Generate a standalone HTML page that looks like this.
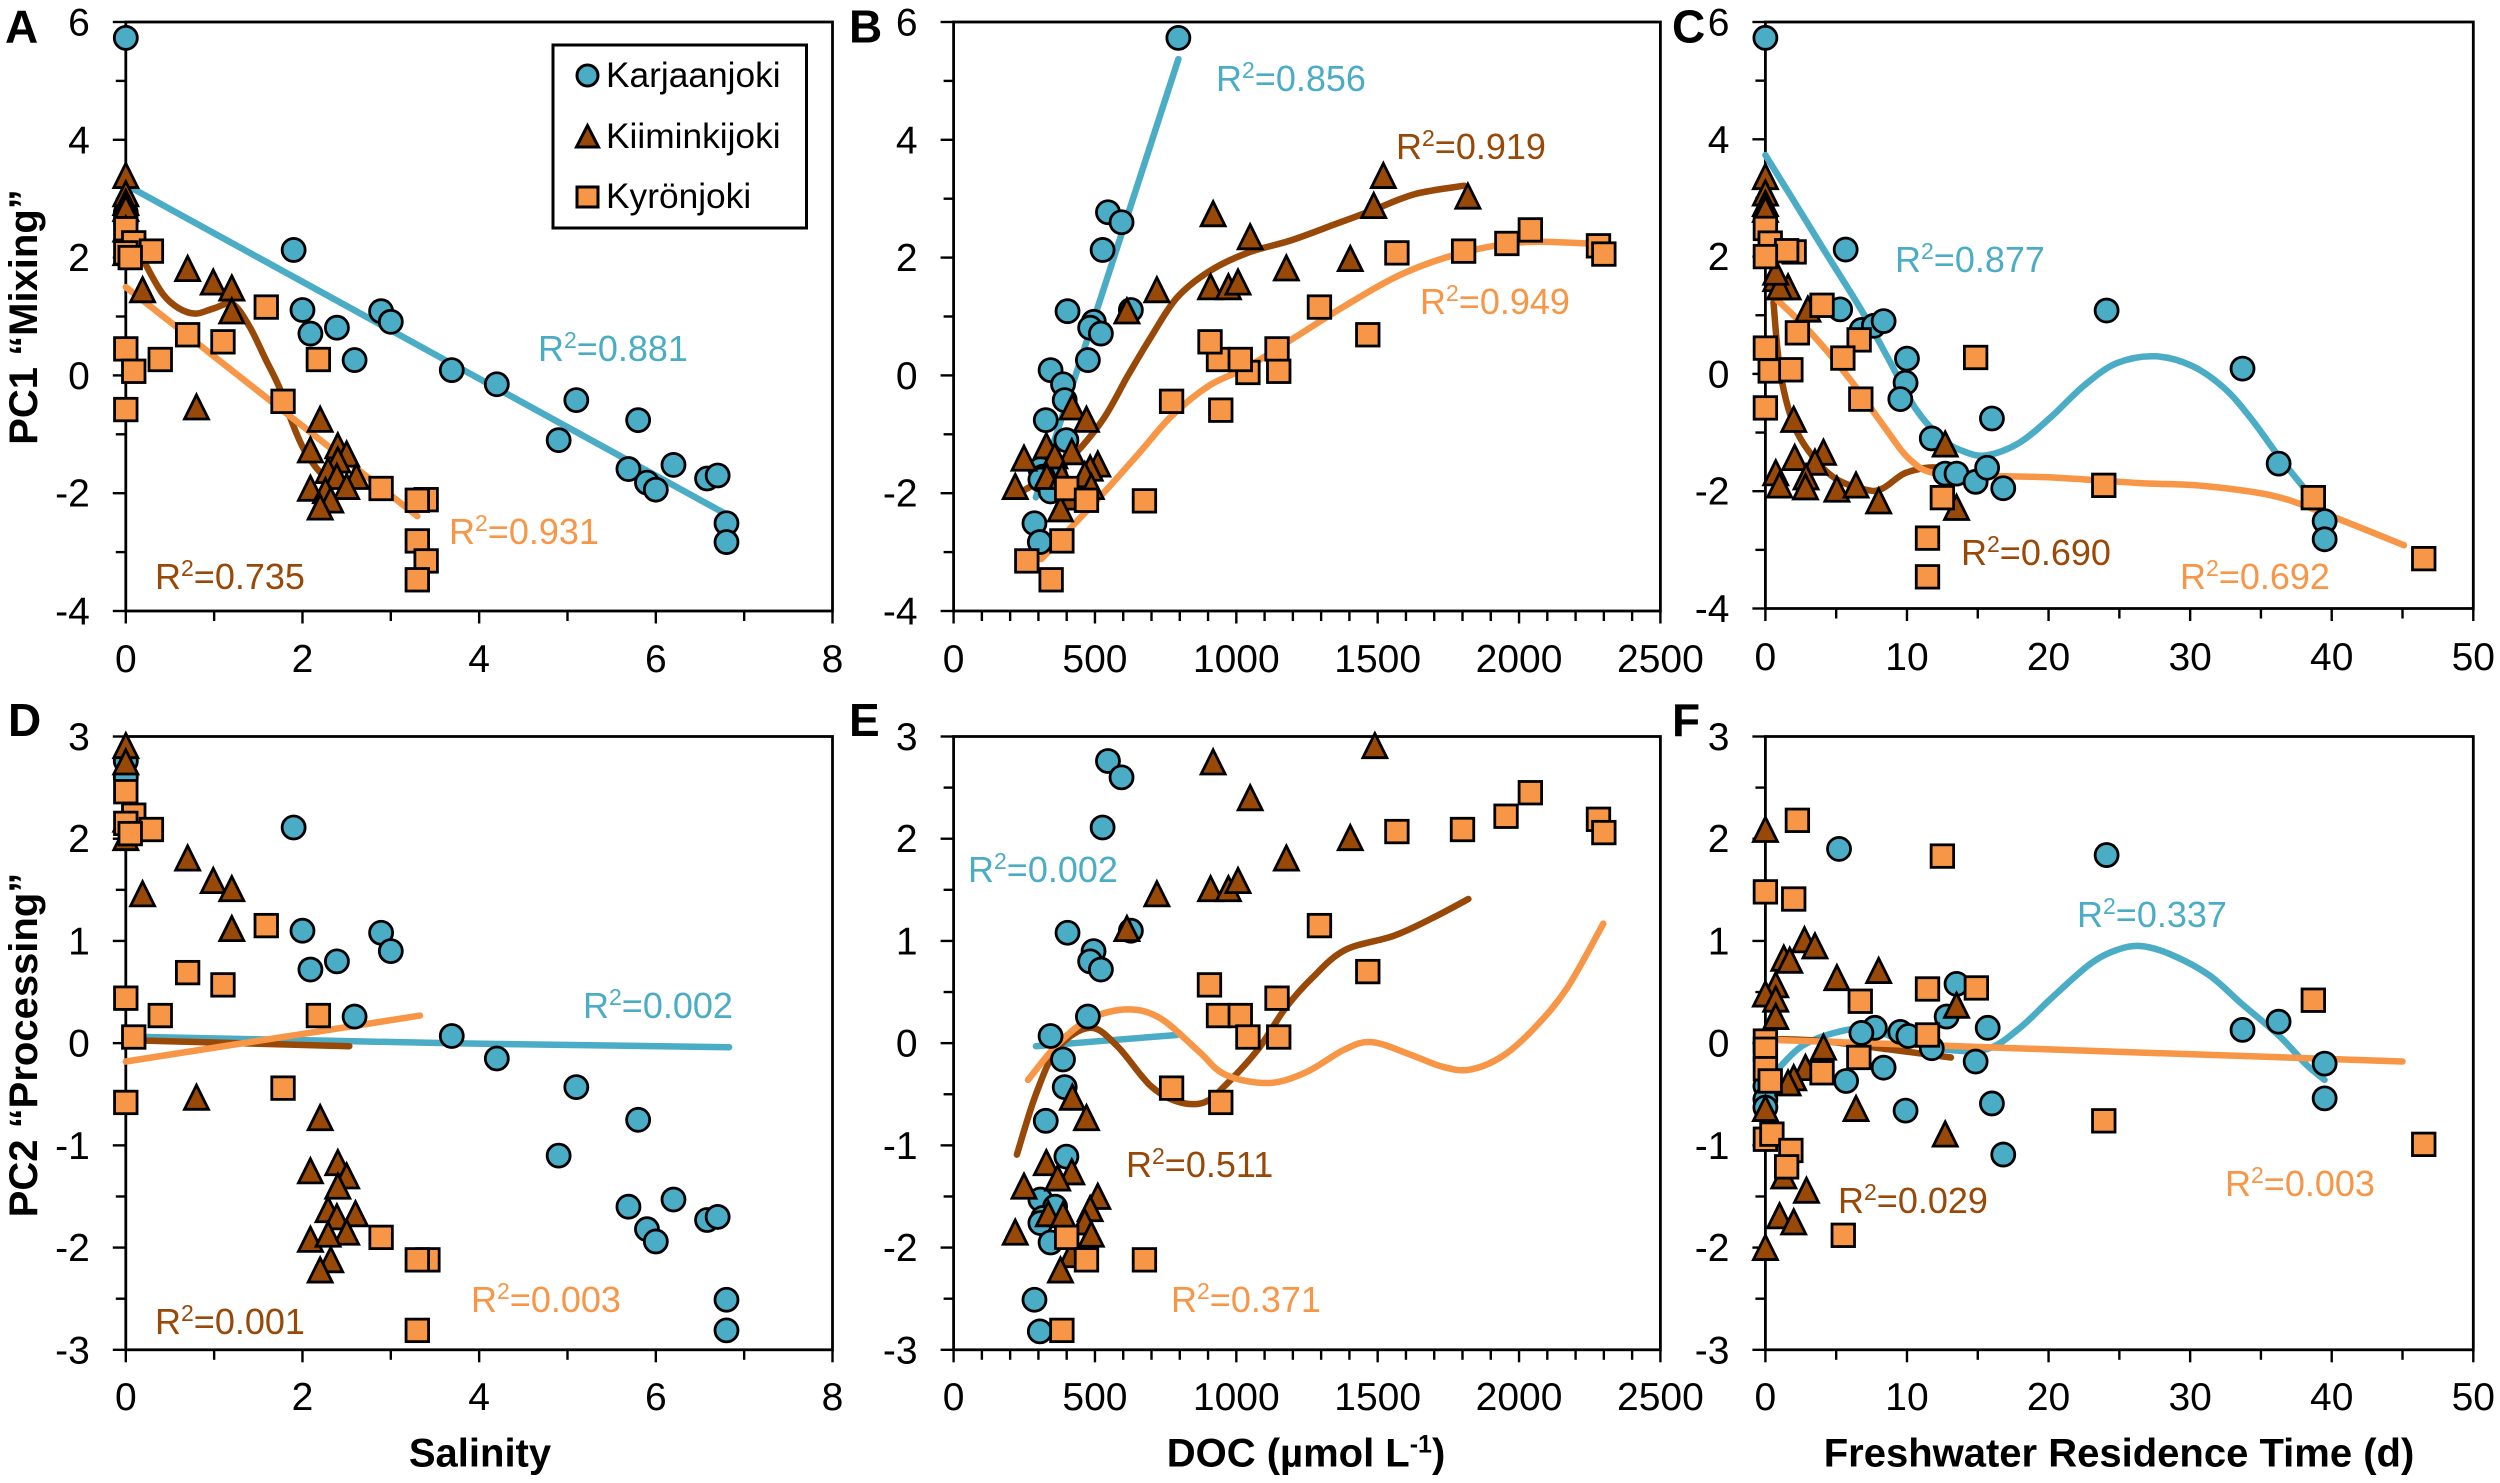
<!DOCTYPE html>
<html lang="en">
<head>
<meta charset="utf-8">
<title>PC1 and PC2 versus salinity, DOC and freshwater residence time</title>
<style>
html,body{margin:0;padding:0;background:#fff;}
svg{display:block;font-family:"Liberation Sans",Arial,sans-serif;}
.letter{font-size:46px;font-weight:bold;fill:#000;}
.title{font-size:40px;font-weight:bold;fill:#000;}
.legend-text{font-size:35.3px;fill:#000;}
.r2{font-size:36px;}
.k{fill:#4BACC6;}.b{fill:#984807;}.o{fill:#F79646;}
</style>
</head>
<body>
<svg id="figure" xmlns="http://www.w3.org/2000/svg" width="2500" height="1483" viewBox="0 0 2500 1483">
<rect width="2500" height="1483" fill="#fff"/>
<g id="plots"></g>

<g>
<text class="letter" x="5" y="42.5">A</text>
<text class="letter" x="849" y="42.5">B</text>
<text class="letter" x="1672" y="42.5">C</text>
<text class="letter" x="8" y="736">D</text>
<text class="letter" x="849" y="736">E</text>
<text class="letter" x="1672" y="736">F</text>
</g>

<text class="title" text-anchor="middle" transform="translate(37,317) rotate(-90)">PC1 “Mixing”</text>
<text class="title" text-anchor="middle" transform="translate(37,1045) rotate(-90)">PC2 “Processing”</text>
<text class="title" text-anchor="middle" x="480" y="1466.5">Salinity</text>
<text class="title" text-anchor="middle" x="1306" y="1466.5">DOC (µmol L<tspan dy="-14" font-size="25">-1</tspan><tspan dy="14">)</tspan></text>
<text class="title" text-anchor="middle" x="2119" y="1466.5">Freshwater Residence Time (d)</text>

<g>
<text class="r2 k" x="538" y="361">R<tspan dy="-13" font-size="23">2</tspan><tspan dy="13">=0.881</tspan></text>
<text class="r2 o" x="449" y="544">R<tspan dy="-13" font-size="23">2</tspan><tspan dy="13">=0.931</tspan></text>
<text class="r2 b" x="155" y="589">R<tspan dy="-13" font-size="23">2</tspan><tspan dy="13">=0.735</tspan></text>
<text class="r2 k" x="1216" y="91">R<tspan dy="-13" font-size="23">2</tspan><tspan dy="13">=0.856</tspan></text>
<text class="r2 b" x="1396" y="159">R<tspan dy="-13" font-size="23">2</tspan><tspan dy="13">=0.919</tspan></text>
<text class="r2 o" x="1420" y="314">R<tspan dy="-13" font-size="23">2</tspan><tspan dy="13">=0.949</tspan></text>
<text class="r2 k" x="1895" y="272">R<tspan dy="-13" font-size="23">2</tspan><tspan dy="13">=0.877</tspan></text>
<text class="r2 b" x="1961" y="565">R<tspan dy="-13" font-size="23">2</tspan><tspan dy="13">=0.690</tspan></text>
<text class="r2 o" x="2180" y="589">R<tspan dy="-13" font-size="23">2</tspan><tspan dy="13">=0.692</tspan></text>
<text class="r2 k" x="583" y="1018">R<tspan dy="-13" font-size="23">2</tspan><tspan dy="13">=0.002</tspan></text>
<text class="r2 o" x="471" y="1312">R<tspan dy="-13" font-size="23">2</tspan><tspan dy="13">=0.003</tspan></text>
<text class="r2 b" x="155" y="1334">R<tspan dy="-13" font-size="23">2</tspan><tspan dy="13">=0.001</tspan></text>
<text class="r2 k" x="968" y="882">R<tspan dy="-13" font-size="23">2</tspan><tspan dy="13">=0.002</tspan></text>
<text class="r2 b" x="1126" y="1177">R<tspan dy="-13" font-size="23">2</tspan><tspan dy="13">=0.511</tspan></text>
<text class="r2 o" x="1171" y="1312">R<tspan dy="-13" font-size="23">2</tspan><tspan dy="13">=0.371</tspan></text>
<text class="r2 k" x="2077" y="927">R<tspan dy="-13" font-size="23">2</tspan><tspan dy="13">=0.337</tspan></text>
<text class="r2 b" x="1838" y="1213">R<tspan dy="-13" font-size="23">2</tspan><tspan dy="13">=0.029</tspan></text>
<text class="r2 o" x="2225" y="1196">R<tspan dy="-13" font-size="23">2</tspan><tspan dy="13">=0.003</tspan></text>
</g>

<g>
<rect x="553" y="45" width="253.5" height="183" fill="#fff" stroke="#000" stroke-width="3"/>
<g>
<circle cx="587.5" cy="75.5" r="10.5" fill="#4BACC6" stroke="#000" stroke-width="3"/>
<text class="legend-text" x="606" y="87">Karjaanjoki</text>
</g>
<g>
<polygon points="587.5,125.5 598.5,147 576.5,147" fill="#984807" stroke="#000" stroke-width="3"/>
<text class="legend-text" x="606" y="148">Kiiminkijoki</text>
</g>
<g>
<rect x="577" y="187" width="21" height="20" fill="#F79646" stroke="#000" stroke-width="3"/>
<text class="legend-text" x="606" y="208">Kyrönjoki</text>
</g>
</g>
</svg>

<script>
// ---------- tick labels ----------
const salinityTicks = [0,2,4,6,8];
const salinityMinor = [1,3,5,7];
const docTicks = [0,500,1000,1500,2000,2500];
const docMinor = [100,200,300,400,600,700,800,900,1100,1200,1300,1400,1600,1700,1800,1900,2100,2200,2300,2400];
const timeTicks = [0,10,20,30,40,50];
const timeMinor = [5,15,25,35,45];
const pc1Ticks = [-4,-2,0,2,4,6];
const pc1Minor = [-3,-1,1,3,5];
const pc2Ticks = [-3,-2,-1,0,1,2,3];
const pc2Minor = [-2.5,-1.5,-0.5,0.5,1.5,2.5];

// ---------- Panel A: PC1 vs salinity ----------
const A_karj_x = [0,0,0,1.9,2.0,2.09,2.39,2.59,2.89,3.0,3.69,4.2,5.1,4.9,5.8,5.69,5.9,6.0,6.2,6.58,6.7,6.8,6.8];
const A_karj_y = [5.73,2.76,2.6,2.13,1.11,0.71,0.81,0.26,1.09,0.91,0.09,-0.15,-0.42,-1.1,-0.76,-1.59,-1.82,-1.94,-1.52,-1.75,-1.7,-2.51,-2.83];
const A_kiim_x = [0,0,0,0,0,0,0.19,0.7,0.99,1.2,1.2,0.8,2.2,2.09,2.4,2.5,2.4,2.29,2.39,2.61,2.5,2.09,2.26,2.32,2.2];
const A_kiim_y = [3.41,3.1,2.95,2.85,2.5,2.1,1.47,1.83,1.6,1.5,1.11,-0.52,-0.73,-1.25,-1.18,-1.32,-1.42,-1.6,-1.7,-1.7,-1.87,-1.9,-1.94,-2.1,-2.22];
const A_kyro_x = [0,0,0.09,0.39,0.7,1.1,1.59,1.78,2.18,2.89,3.4,3.3,3.3,3.4,3.3,0,0.09,0.29,0,0.05];
const A_kyro_y = [0.45,-0.58,0.07,0.27,0.69,0.57,1.16,-0.44,0.27,-1.92,-2.11,-2.12,-2.81,-3.15,-3.47,2.49,2.25,2.11,2.08,2.0];
const A_karj_tx = [0.08,6.8];
const A_karj_ty = [3.17,-2.36];
const A_kiim_tx = [0,0.23,0.42,0.6,0.79,1.0,1.21,1.4,1.58,1.74,1.89,2.04,2.26,2.5];
const A_kiim_ty = [2.6,1.87,1.38,1.14,1.05,1.14,1.21,0.83,0.28,-0.21,-0.83,-1.32,-1.73,-1.87];
const A_kyro_tx = [0,3.3];
const A_kyro_ty = [1.5,-2.39];

// ---------- Panel B: PC1 vs DOC ----------
const B_karj_x = [795,546,594,527,627,403,496,483,521,475,343,387,393,326,399,307,359,316,307,343,286,305];
const B_karj_y = [5.73,2.77,2.6,2.13,1.11,1.09,0.91,0.81,0.71,0.26,0.09,-0.15,-0.42,-0.76,-1.1,-1.59,-1.7,-1.72,-1.77,-1.97,-2.51,-2.83];
const B_kiim_x = [1520,1819,1486,918,1049,1177,1403,719,909,972,1006,613,420,470,328,249,418,358,510,483,464,330,383,218,487,416,378];
const B_kiim_y = [3.41,3.06,2.9,2.76,2.37,1.84,2.0,1.47,1.52,1.52,1.6,1.11,-0.52,-0.73,-1.18,-1.39,-1.28,-1.35,-1.49,-1.56,-1.67,-1.7,-1.7,-1.87,-1.87,-2.05,-2.25];
const B_kyro_x = [259,345,383,400,470,675,771,945,937,907,1041,1014,1150,1144,1294,1465,1568,1804,1957,2040,2281,2300];
const B_kyro_y = [-3.15,-3.47,-2.81,-1.92,-2.12,-2.13,-0.44,-0.59,0.27,0.57,0.05,0.27,0.07,0.45,1.16,0.69,2.08,2.11,2.24,2.47,2.2,2.06];
const B_karj_tx = [291,502,795];
const B_karj_ty = [-2.07,1.04,5.37];
const B_kiim_tx = [253,387,521,617,694,790,905,1039,1192,1346,1480,1633,1806];
const B_kiim_ty = [-1.94,-1.53,-0.8,0,0.62,1.32,1.77,2.08,2.29,2.56,2.8,3.08,3.22];
const B_kyro_tx = [310,426,541,656,771,905,1039,1212,1384,1576,1767,1940,2074,2285];
const B_kyro_ty = [-3.12,-2.53,-1.94,-1.32,-0.69,-0.17,0.14,0.66,1.18,1.7,2.04,2.22,2.27,2.23];

// ---------- Panel C: PC1 vs residence time ----------
const C_karj_x = [0,5.67,5.28,6.8,7.66,8.35,10,9.9,9.53,11.75,16,12.7,13.5,14.85,15.66,16.8,24.1,33.7,36.25,39.5,39.5];
const C_karj_y = [5.73,2.12,1.1,0.75,0.82,0.9,0.26,-0.15,-0.43,-1.1,-0.76,-1.7,-1.7,-1.84,-1.6,-1.95,1.08,0.09,-1.53,-2.51,-2.82];
const C_kiim_x = [0,0,0,0,0.73,1.6,1,3,2,12.7,4.1,2.07,3.5,0.73,2.87,1,2.83,5.05,6.4,8,13.5,0.73];
const C_kiim_y = [3.38,3.1,2.92,2.82,1.64,1.5,1.5,1.12,-0.76,-1.18,-1.32,-1.41,-1.49,-1.67,-1.74,-1.88,-1.91,-1.95,-1.88,-2.15,-2.26,1.75];
const C_kyro_x = [0,0.34,2.03,1.5,0,4,2.26,0,6.62,5.47,0.34,1.8,6.74,0,14.85,12.5,23.9,38.7,11.45,11.45,46.5];
const C_kyro_y = [2.48,2.23,2.08,2.1,2,1.17,0.7,0.44,0.58,0.27,0.05,0.07,-0.43,-0.58,0.28,-2.11,-1.9,-2.11,-2.8,-3.46,-3.15];
const C_karj_tx = [0,1.8,4.1,6.8,8.7,10.6,12.5,14,15.6,17.9,20.2,22.5,24.8,27.5,30.1,32.4,34.3,36.3,38.4];
const C_karj_ty = [3.73,3.03,2.13,1.08,0.25,-0.59,-1.11,-1.32,-1.39,-1.18,-0.73,-0.2,0.18,0.3,0.14,-0.24,-0.76,-1.42,-2.05];
const C_kiim_tx = [0.57,1,1.8,2.95,4.86,7.2,8.3,9.8,11.4,12.5];
const C_kiim_ty = [1.22,0.11,-0.73,-1.28,-1.77,-1.98,-1.95,-1.7,-1.6,-1.6];
const C_kyro_tx = [0.84,3.33,6,8.3,10.2,12.1,16.3,20.6,26.3,30.9,35.9,39.7,45.1];
const C_kyro_ty = [1.26,0.67,-0.1,-0.87,-1.46,-1.7,-1.74,-1.77,-1.86,-1.91,-2.08,-2.4,-2.92];

// ---------- Panel D: PC2 vs salinity ----------
const D_karj_x = [0,0,1.9,2.0,2.09,2.39,2.59,2.89,3.0,3.69,4.2,5.1,4.9,5.8,5.69,5.9,6.0,6.2,6.58,6.7,6.8,6.8];
const D_karj_y = [2.76,2.6,2.11,1.1,0.72,0.8,0.26,1.08,0.9,0.07,-0.15,-0.43,-1.1,-0.75,-1.6,-1.82,-1.94,-1.53,-1.73,-1.7,-2.51,-2.81];
const D_kiim_x = [0,0,0,0,0.19,0.7,0.99,1.2,1.2,0.8,2.2,2.09,2.4,2.5,2.4,2.29,2.39,2.6,2.5,2.09,2.29,2.32,2.2];
const D_kiim_y = [2.92,2.76,2.02,2.2,1.47,1.82,1.6,1.52,1.13,-0.52,-0.72,-1.24,-1.16,-1.29,-1.39,-1.62,-1.69,-1.66,-1.84,-1.91,-1.86,-2.11,-2.21];
const D_kyro_x = [0,0,0.09,0.39,0.7,1.1,1.59,1.78,2.18,2.89,3.42,3.3,3.3,0,0.09,0.29,0,0.05];
const D_kyro_y = [0.44,-0.58,0.06,0.27,0.69,0.57,1.15,-0.44,0.27,-1.9,-2.12,-2.12,-2.81,2.46,2.23,2.09,2.15,2.05];
const D_karj_tx = [0.23,3.69,6.83];
const D_karj_ty = [0.06,0,-0.04];
const D_kiim_tx = [0,2.53];
const D_kiim_ty = [0.03,-0.03];
const D_kyro_tx = [0,3.33];
const D_kyro_ty = [-0.18,0.27];

// ---------- Panel E: PC2 vs DOC ----------
const E_karj_x = [546,594,527,627,403,495,483,521,475,343,387,393,326,399,307,359,316,307,343,286,305];
const E_karj_y = [2.76,2.6,2.11,1.1,1.08,0.9,0.8,0.72,0.26,0.07,-0.16,-0.43,-0.76,-1.11,-1.53,-1.6,-1.71,-1.76,-1.95,-2.51,-2.82];
const E_kiim_x = [1490,918,1049,1403,1177,719,909,972,1006,613,420,470,328,249,418,368,510,483,464,335,387,218,487,416,378];
const E_kiim_y = [2.92,2.76,2.41,2.02,1.82,1.47,1.52,1.52,1.6,1.13,-0.52,-0.72,-1.16,-1.39,-1.25,-1.31,-1.49,-1.61,-1.74,-1.66,-1.67,-1.84,-1.86,-2.06,-2.21];
const E_kyro_x = [383,400,470,675,771,945,905,937,1014,1041,1144,1150,1294,1465,1568,1800,1954,2040,2281,2300];
const E_kyro_y = [-2.81,-1.9,-2.12,-2.12,-0.44,-0.58,0.57,0.27,0.27,0.06,0.44,0.06,1.15,0.7,2.07,2.09,2.22,2.45,2.19,2.06];
const E_karj_tx = [291,790];
const E_karj_ty = [-0.03,0.08];
const E_kiim_tx = [224,291,368,483,579,694,790,886,962,1077,1173,1269,1384,1557,1691,1821];
const E_kiim_ty = [-1.09,-0.5,-0.05,0.15,-0.03,-0.41,-0.57,-0.58,-0.41,-0.06,0.34,0.64,0.91,1.05,1.22,1.41];
const E_kyro_tx = [263,368,483,617,733,867,962,1116,1250,1384,1480,1614,1729,1825,1940,2055,2170,2298];
const E_kyro_ty = [-0.36,-0.01,0.24,0.33,0.24,-0.08,-0.31,-0.39,-0.28,-0.06,0.01,-0.11,-0.23,-0.26,-0.13,0.15,0.54,1.17];

// ---------- Panel F: PC2 vs residence time ----------
const F_karj_x = [0,0,0,5.2,24.1,13.5,12.8,15.7,7.73,6.78,9.53,10.1,11.75,14.85,8.35,5.7,9.9,16,16.8,33.7,36.25,39.5,39.5];
const F_karj_y = [-0.42,-0.55,-0.63,1.9,1.84,0.58,0.26,0.15,0.15,0.1,0.11,0.07,-0.05,-0.18,-0.24,-0.37,-0.66,-0.59,-1.09,0.13,0.21,-0.2,-0.54];
const F_kiim_x = [0,2.76,3.5,1.3,1.72,8,5.05,0.73,0,0.73,0.73,13.5,4.1,2.83,2,1.6,0,6.4,12.7,1.3,2.9,1,2,0];
const F_kiim_y = [2.1,1.02,0.96,0.84,0.82,0.72,0.65,0.58,0.49,0.44,0.27,0.38,-0.03,-0.23,-0.33,-0.38,-0.63,-0.63,-0.88,-1.29,-1.43,-1.68,-1.74,-1.99];
const F_kyro_x = [2.26,12.5,0,2,11.45,14.9,6.7,38.7,11.45,0,0,0,6.6,4,0.34,23.9,0,0.46,1.8,1.5,5.5,46.5];
const F_kyro_y = [2.18,1.83,1.48,1.41,0.53,0.54,0.41,0.42,0.08,0.02,-0.06,-0.25,-0.14,-0.29,-0.37,-0.76,-0.94,-0.89,-1.05,-1.21,-1.88,-0.99];
const F_karj_tx = [0.84,2.57,4.86,7.16,9.84,12.5,15.6,17.9,20.2,22.9,24.8,26.5,28.6,31.3,33.6,36.3,38.2,39.5];
const F_karj_ty = [-0.26,-0.03,0.1,0.14,0.02,-0.06,-0.06,0.14,0.44,0.77,0.91,0.95,0.87,0.67,0.39,0.07,-0.21,-0.36];
const F_kiim_tx = [0.65,4.1,8.7,13.1];
const F_kiim_ty = [0.04,0.02,-0.06,-0.14];
const F_kyro_tx = [1,45];
const F_kyro_ty = [0.03,-0.18];

const NS = 'http://www.w3.org/2000/svg';
const root = document.getElementById('plots');
const COLORS = {karjaanjoki:'#4BACC6', kiiminkijoki:'#984807', kyronjoki:'#F79646'};

function svgEl(parent, tag, attrs){
  const el = document.createElementNS(NS, tag);
  for (const k in attrs) el.setAttribute(k, attrs[k]);
  parent.appendChild(el);
  return el;
}
function linearScale(d0, d1, r0, r1){
  return v => r0 + (v - d0) * (r1 - r0) / (d1 - d0);
}
function smoothPath(pts){
  let d = 'M' + pts[0][0].toFixed(1) + ' ' + pts[0][1].toFixed(1);
  for (let i = 0; i < pts.length - 1; i++){
    const p0 = pts[Math.max(i-1,0)], p1 = pts[i], p2 = pts[i+1], p3 = pts[Math.min(i+2,pts.length-1)];
    const c1x = p1[0] + (p2[0]-p0[0])/6, c1y = p1[1] + (p2[1]-p0[1])/6;
    const c2x = p2[0] - (p3[0]-p1[0])/6, c2y = p2[1] - (p3[1]-p1[1])/6;
    d += 'C' + [c1x,c1y,c2x,c2y,p2[0],p2[1]].map(n => n.toFixed(1)).join(' ');
  }
  return d;
}
function drawMarker(g, kind, cx, cy){
  let el;
  if (kind === 'karjaanjoki'){
    el = svgEl(g, 'circle', {cx:cx, cy:cy, r:11.5, fill:COLORS[kind], stroke:'#000', 'stroke-width':2.8});
    
    
  } else if (kind === 'kiiminkijoki'){
    const pts = [[cx,cy-11.2],[cx+12,cy+13],[cx-12,cy+13]].map(p => p.join(',')).join(' ');
    el = svgEl(g, 'polygon', {points:pts, fill:COLORS[kind], stroke:'#000', 'stroke-width':2.8});
    
    
  } else {
    el = svgEl(g, 'rect', {x:cx-11.25, y:cy-11.25, width:22.5, height:22.5, fill:COLORS[kind], stroke:'#000', 'stroke-width':2.8});
    
    
  }
}
function drawPanel(p){
  const g = svgEl(root, 'g', {});
  
  
  const sx = linearScale(p.xDomain[0], p.xDomain[1], p.left, p.right);
  const sy = linearScale(p.yDomain[0], p.yDomain[1], p.bottom, p.top);

  // frame
  const frame = svgEl(g, 'rect', {x:p.left, y:p.top, width:p.right-p.left, height:p.bottom-p.top, fill:'none', stroke:'#000', 'stroke-width':2.8});
  
  

  // ticks
  const ticks = svgEl(g, 'g', {stroke:'#000', 'stroke-width':2.4});
  
  
  p.yTicks.forEach(v => svgEl(ticks, 'line', {x1:p.left-13, x2:p.left, y1:sy(v), y2:sy(v)}));
  p.yMinor.forEach(v => svgEl(ticks, 'line', {x1:p.left-10, x2:p.left, y1:sy(v), y2:sy(v)}));
  p.xTicks.forEach(v => svgEl(ticks, 'line', {x1:sx(v), x2:sx(v), y1:p.bottom, y2:p.bottom+12.5}));
  p.xMinor.forEach(v => svgEl(ticks, 'line', {x1:sx(v), x2:sx(v), y1:p.bottom, y2:p.bottom+10}));

  // tick labels
  p.yTicks.forEach(v => {
    const t = svgEl(g, 'text', {x:p.left-36, y:sy(v)+13.5, 'text-anchor':'end', 'font-size':39, fill:'#000'});
    t.textContent = String(v);
    
    
  });
  p.xTicks.forEach(v => {
    const t = svgEl(g, 'text', {x:sx(v), y:p.xLabelY, 'text-anchor':'middle', 'font-size':39, fill:'#000'});
    t.textContent = String(v);
    
    
  });

  // trend lines first, markers on top
  p.series.forEach(s => {
    const pts = s.tx.map((v,i) => [sx(v), sy(s.ty[i])]);
    const line = svgEl(g, 'path', {d:smoothPath(pts), fill:'none', stroke:COLORS[s.kind], 'stroke-width':6.5, 'stroke-linecap':'round', 'stroke-linejoin':'round'});
    
    
  });
  p.series.forEach(s => {
    const sg = svgEl(g, 'g', {});
    
    
    s.x.forEach((v,i) => drawMarker(sg, s.kind, sx(v), sy(s.y[i])));
  });
}

const TOP_ROW = {top:22, bottom:611, xLabelY:672, yDomain:[-4,6], yTicks:pc1Ticks, yMinor:pc1Minor};
const BOT_ROW = {top:736.5, bottom:1349.8, xLabelY:1410, yDomain:[-3,3], yTicks:pc2Ticks, yMinor:pc2Minor};
const COL1 = {left:125.8, right:832.5, xDomain:[0,8], xTicks:salinityTicks, xMinor:salinityMinor};
const COL2 = {left:953.6, right:1660.4, xDomain:[0,2500], xTicks:docTicks, xMinor:docMinor};
const COL3 = {left:1765.4, right:2473.3, xDomain:[0,50], xTicks:timeTicks, xMinor:timeMinor};

function seriesOf(kx,ky,ktx,kty,bx,by,btx,bty,ox,oy,otx,oty){
  return [
    {kind:'karjaanjoki', x:kx, y:ky, tx:ktx, ty:kty},
    {kind:'kiiminkijoki', x:bx, y:by, tx:btx, ty:bty},
    {kind:'kyronjoki', x:ox, y:oy, tx:otx, ty:oty}
  ];
}
drawPanel(Object.assign({id:'a'}, TOP_ROW, COL1, {series:seriesOf(A_karj_x,A_karj_y,A_karj_tx,A_karj_ty,A_kiim_x,A_kiim_y,A_kiim_tx,A_kiim_ty,A_kyro_x,A_kyro_y,A_kyro_tx,A_kyro_ty)}));
drawPanel(Object.assign({id:'b'}, TOP_ROW, COL2, {series:seriesOf(B_karj_x,B_karj_y,B_karj_tx,B_karj_ty,B_kiim_x,B_kiim_y,B_kiim_tx,B_kiim_ty,B_kyro_x,B_kyro_y,B_kyro_tx,B_kyro_ty)}));
drawPanel(Object.assign({id:'c'}, TOP_ROW, COL3, {bottom:608.5, xLabelY:670, series:seriesOf(C_karj_x,C_karj_y,C_karj_tx,C_karj_ty,C_kiim_x,C_kiim_y,C_kiim_tx,C_kiim_ty,C_kyro_x,C_kyro_y,C_kyro_tx,C_kyro_ty)}));
drawPanel(Object.assign({id:'d'}, BOT_ROW, COL1, {series:seriesOf(D_karj_x,D_karj_y,D_karj_tx,D_karj_ty,D_kiim_x,D_kiim_y,D_kiim_tx,D_kiim_ty,D_kyro_x,D_kyro_y,D_kyro_tx,D_kyro_ty)}));
drawPanel(Object.assign({id:'e'}, BOT_ROW, COL2, {series:seriesOf(E_karj_x,E_karj_y,E_karj_tx,E_karj_ty,E_kiim_x,E_kiim_y,E_kiim_tx,E_kiim_ty,E_kyro_x,E_kyro_y,E_kyro_tx,E_kyro_ty)}));
drawPanel(Object.assign({id:'f'}, BOT_ROW, COL3, {series:seriesOf(F_karj_x,F_karj_y,F_karj_tx,F_karj_ty,F_kiim_x,F_kiim_y,F_kiim_tx,F_kiim_ty,F_kyro_x,F_kyro_y,F_kyro_tx,F_kyro_ty)}));
</script>
</body>
</html>
